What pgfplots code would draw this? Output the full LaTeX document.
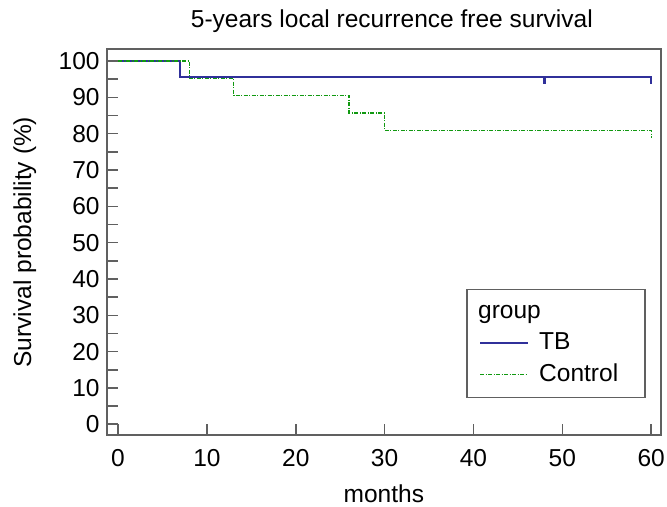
\documentclass[border=0pt]{standalone}
\usepackage{fontspec}
\setmainfont{Liberation Sans}
\usepackage{pgfplots}
\pgfplotsset{compat=1.18}
\usetikzlibrary{calc}
\definecolor{tbblue}{HTML}{30309A}
\definecolor{ctrlgreen}{HTML}{119911}
\definecolor{axisgray}{HTML}{606060}

\begin{document}
\begin{tikzpicture}
\begin{axis}[
  scale only axis,
  width=554pt, height=386pt,
  xmin=-1.27, xmax=61.1,
  ymin=-3.0, ymax=103.3,
  axis line style={draw=axisgray, line width=1.8pt},
  tick style={draw=axisgray, line width=1.6pt},
  tick align=inside,
  major tick length=11pt, minor tick length=11pt,
  xtick pos=bottom, ytick pos=left,
  xtick={0,10,...,60},
  ytick={0,10,...,100},
  minor ytick={5,15,...,95},
  font=\fontsize{24.5}{29}\selectfont,
  /pgf/number format/assume math mode=true,
  xticklabel style={anchor=north, inner sep=0pt, yshift=-14pt},
  yticklabel style={anchor=east, inner sep=0pt, xshift=-7pt},
  title={5-years local recurrence free survival},
  title style={at={(rel axis cs:0.5,1)}, anchor=base, yshift=16pt, xshift=8pt},
  xlabel={months},
  xlabel style={at={(rel axis cs:0.5,0)}, anchor=base, yshift=-67pt},
  ylabel={Survival probability (\%)},
  every axis y label/.style={at={($(rel axis cs:0,0.5)+(-75.7pt,0pt)$)}, rotate=90, anchor=base},
  legend style={at={(0.973,0.0959)}, anchor=south east,
    draw=axisgray, line width=1.6pt, fill=white,
    inner xsep=12pt, inner ysep=8pt, row sep=2.5pt, column sep=10pt,
    nodes={inner sep=0pt, text height=21pt, text depth=8pt},
    font=\fontsize{24.5}{29}\selectfont},
  legend cell align=left,
  legend image code/.code={\draw[#1] (0pt,0pt) -- (48pt,0pt);},
]
\addlegendimage{empty legend}
\addlegendentry{\hspace{-61pt}group}

% TB
\addplot[color=tbblue, line width=2.2pt] coordinates {
  (0,100) (7,100) (7,95.65) (48,95.65) (48,93.7) (48,95.65) (60,95.65) (60,93.7)
};
\addlegendentry{TB}

% Control
\addplot[color=ctrlgreen, line width=1.2pt, dash pattern=on 4pt off 1.5pt on 1pt off 1.5pt] coordinates {
  (0,100) (8,100) (8,95.24) (13,95.24) (13,90.48) (26,90.48) (26,85.71)
  (30,85.71) (30,80.95) (60,80.95) (60,78.8)
};
\addlegendentry{Control\rule{15pt}{0pt}}

\coordinate (bl) at (rel axis cs:0,0);
\coordinate (tr) at (rel axis cs:1,1);
\end{axis}
\pgfresetboundingbox
\path ($(bl)+(-106.7pt,-71pt)$) rectangle ($(tr)+(6pt,49pt)$);
\end{tikzpicture}
\end{document}
